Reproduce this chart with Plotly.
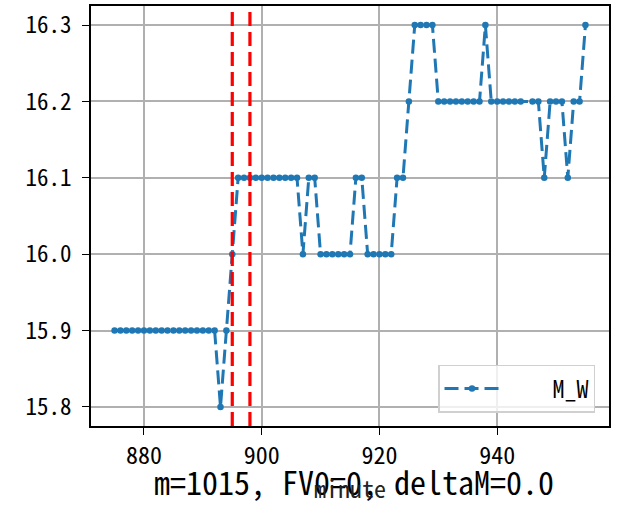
import plotly.graph_objects as go

minutes = list(range(875, 945)) + list(range(946, 956))
m_w = (
    [15.9] * 18            # 875-892
    + [15.8, 15.9, 16.0]   # 893-895
    + [16.1] * 11          # 896-906
    + [16.0, 16.1, 16.1]   # 907-909
    + [16.0] * 6           # 910-915
    + [16.1, 16.1]         # 916-917
    + [16.0] * 5           # 918-922
    + [16.1, 16.1, 16.2]   # 923-925
    + [16.3] * 4           # 926-929
    + [16.2] * 8           # 930-937
    + [16.3]               # 938
    + [16.2] * 6           # 939-944
    + [16.2, 16.2, 16.1, 16.2, 16.2, 16.2, 16.1, 16.2, 16.2, 16.3]  # 946-955
)
vlines = [895, 898]
y_ticks = [15.8, 15.9, 16.0, 16.1, 16.2, 16.3]
x_ticks = [880, 900, 920, 940]
series_name = "M_W"
title_text = "m=1015, FV0=0, deltaM=0.0"
x_label = "minute"

FONT = "Noto Sans Mono CJK SC, DejaVu Sans Mono, monospace"

fig = go.Figure()
fig.add_trace(go.Scatter(
    x=minutes, y=m_w, mode="lines+markers",
    name="\u00a0\u00a0\u00a0\u00a0" + series_name,
    line=dict(color="#1f77b4", width=3, dash="14px,6px"),
    marker=dict(color="#1f77b4", size=6.5),
))
for v in vlines:
    fig.add_vline(x=v, line=dict(color="red", width=3.2, dash="14px,6px"))

axis_common = dict(
    showgrid=True, gridcolor="#b0b0b0", gridwidth=1.5,
    showline=True, linecolor="black", linewidth=1.6, mirror=True,
    ticks="outside", ticklen=7, tickwidth=1.3, tickcolor="black",
    zeroline=False, automargin=False,
)
fig.update_xaxes(range=[871, 959], tickvals=x_ticks, **axis_common,
                 tickfont=dict(family=FONT, size=24, color="black"))
fig.update_yaxes(range=[15.775, 16.325], tickvals=y_ticks, tickformat=".1f", **axis_common,
                 tickfont=dict(family=FONT, size=23, color="black"), ticklabelstandoff=6)

fig.add_annotation(
    text=x_label, xref="paper", yref="paper", x=0.5, y=-(488 - 426) / 420,
    xanchor="center", yanchor="middle", showarrow=False,
    font=dict(family=FONT, size=24, color="#222"),
)

fig.update_layout(
    width=619, height=508,
    margin=dict(l=91, r=10, t=6, b=82, autoexpand=False),
    plot_bgcolor="white", paper_bgcolor="white",
    font=dict(family=FONT, color="black"),
    title=dict(text=title_text, font=dict(family=FONT, size=32, color="black"),
               x=354 / 619, xanchor="center", y=1 - 484 / 508, yanchor="middle", yref="container"),
    showlegend=True,
    legend=dict(x=0.973, y=0.031, xanchor="right", yanchor="bottom", itemwidth=55,
                bgcolor="rgba(255,255,255,0.8)", bordercolor="#d0d0d0", borderwidth=1.5,
                font=dict(family=FONT, size=24, color="black")),
)
fig.write_html("out.html", post_script="document.body.style.margin='0';",
               config={"displayModeBar": False})
